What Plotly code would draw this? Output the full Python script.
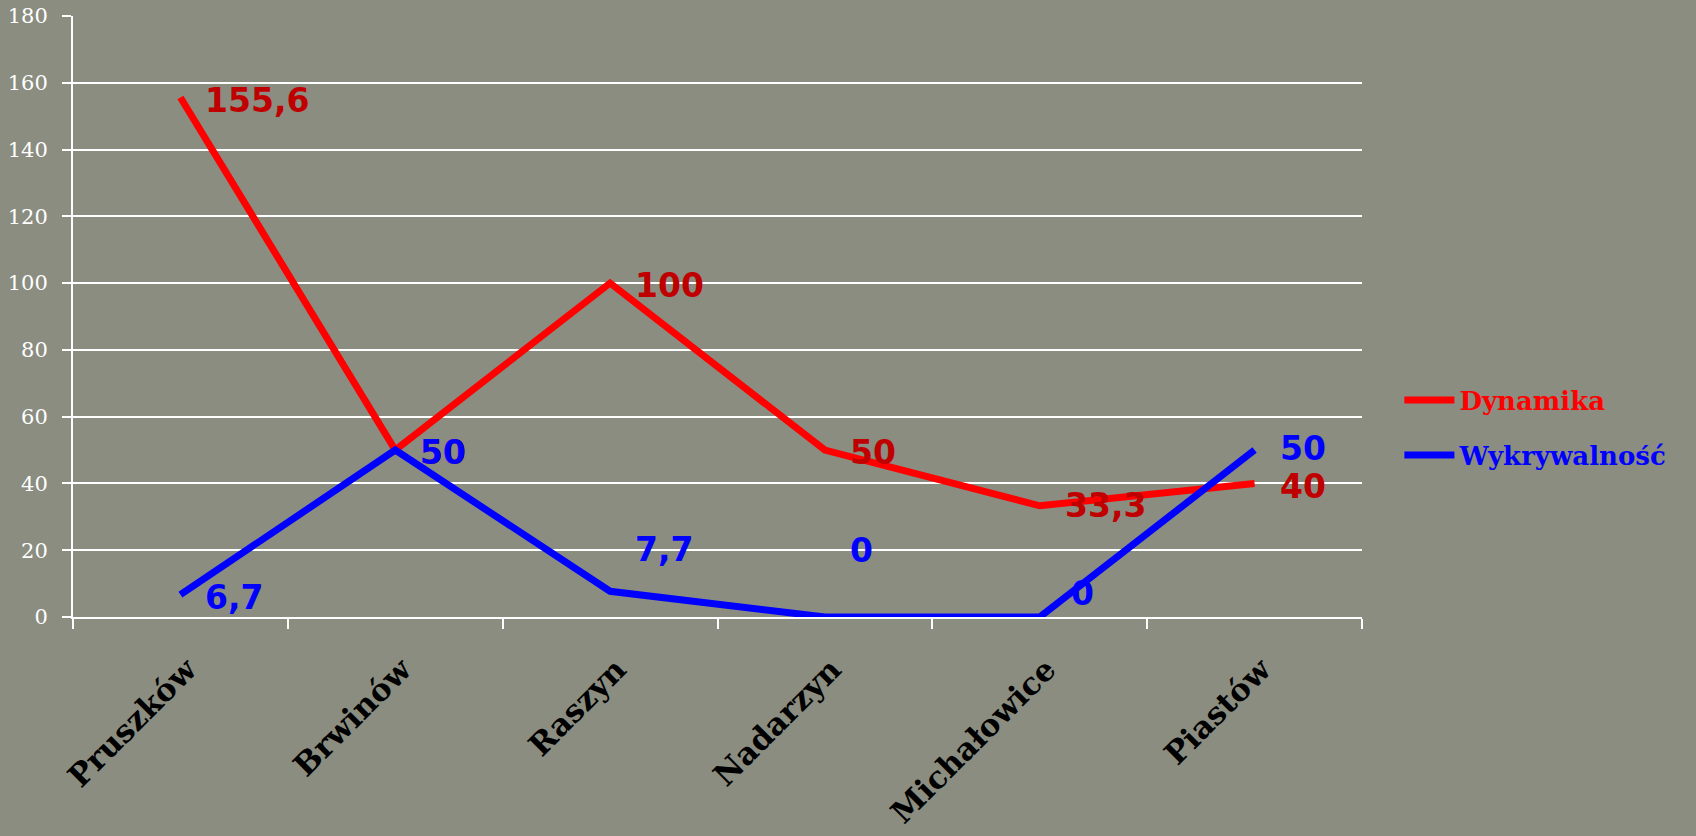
import plotly.graph_objects as go

categories = ["Pruszków", "Brwinów", "Raszyn", "Nadarzyn", "Michałowice", "Piastów"]
dynamika = [155.6, 50, 100, 50, 33.3, 40]
wykrywalnosc = [6.7, 50, 7.7, 0, 0, 50]
dynamika_labels = ["155,6", "50", "100", "50", "33,3", "40"]
wykrywalnosc_labels = ["6,7", "50", "7,7", "0", "0", "50"]
y_ticks = [0, 20, 40, 60, 80, 100, 120, 140, 160, 180]

# label pixel offsets (styling)
dyn_yshift = [-3, -2, -2, -2, 0, -3]
wyk_yshift = [-3, -2, 42, 67, 24, 2]
wyk_xshift = [23, 23, 23, 23, 29, 23]

RED = "#FF0000"
BLUE = "#0000FF"
DARKRED = "#C00000"
BG = "#8A8D80"

fig = go.Figure()
fig.add_trace(go.Scatter(x=categories, y=dynamika, mode="lines",
                         name="<span style='color:#FF0000'>Dynamika</span>",
                         legendgroup="a",
                         line=dict(color=RED, width=7)))
fig.add_trace(go.Scatter(x=categories, y=wykrywalnosc, mode="lines",
                         name="<span style='color:#0000FF'>Wykrywalność</span>",
                         legendgroup="b",
                         line=dict(color=BLUE, width=7)))

ann = []
for c, v, t, ys in zip(categories, dynamika, dynamika_labels, dyn_yshift):
    ann.append(dict(x=c, y=v, text=t, showarrow=False, xanchor="left", yanchor="middle",
                    xshift=23, yshift=ys,
                    font=dict(family="DejaVu Sans", size=33, color=DARKRED, weight="bold")))
for c, v, t, ys, xs in zip(categories, wykrywalnosc, wykrywalnosc_labels, wyk_yshift, wyk_xshift):
    ann.append(dict(x=c, y=v, text=t, showarrow=False, xanchor="left", yanchor="middle",
                    xshift=xs, yshift=ys,
                    font=dict(family="DejaVu Sans", size=33, color=BLUE, weight="bold")))

fig.update_layout(
    width=1696, height=836,
    paper_bgcolor=BG, plot_bgcolor=BG,
    margin=dict(l=73, r=334, t=16, b=219, autoexpand=False),
    showlegend=True,
    legend=dict(x=1.029, y=0.315, xanchor="left", yanchor="middle",
                bgcolor="rgba(0,0,0,0)", itemwidth=50, tracegroupgap=18,
                font=dict(family="DejaVu Serif", size=26, weight="bold"),
                traceorder="grouped"),
    annotations=ann,
)
fig.update_xaxes(
    type="category", tickson="boundaries", ticks="outside", ticklen=10, tickwidth=2,
    tickcolor="white", showline=True, linecolor="white", linewidth=2, showgrid=False,
    tickangle=-45, range=[-0.5, 5.5], ticklabelstandoff=20, ticklabelshift=7,
    automargin=False,
    tickfont=dict(family="DejaVu Serif", size=31, color="black", weight="bold"),
)
fig.update_yaxes(
    range=[0, 180], tickvals=y_ticks, ticks="outside", ticklen=9, tickwidth=2,
    tickcolor="white", showline=True, linecolor="white", linewidth=2,
    showgrid=True, gridcolor="white", gridwidth=2, zeroline=False,
    ticklabelstandoff=10, automargin=False,
    tickfont=dict(family="DejaVu Serif", size=21, color="white"),
)

fig.write_html("out.html", config={"displayModeBar": False},
               post_script="document.body.style.margin='0';document.body.style.overflow='hidden';")
